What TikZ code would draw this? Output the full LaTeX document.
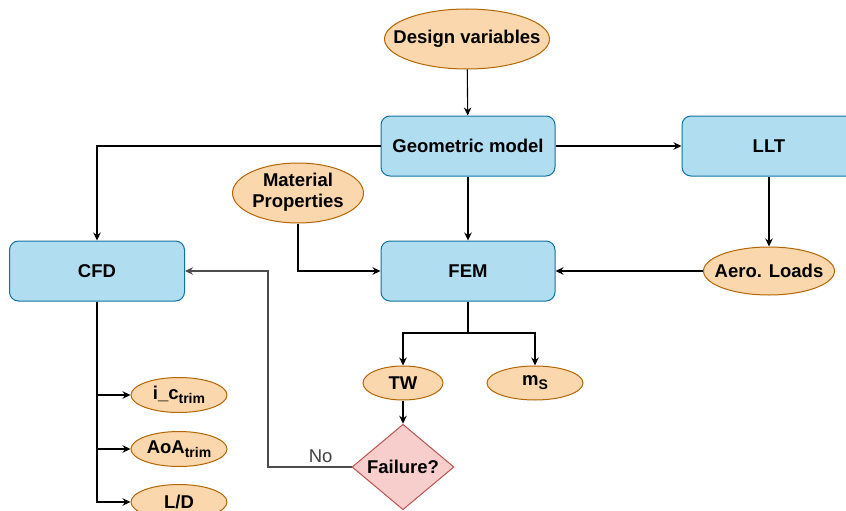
\documentclass[tikz,border=0pt]{standalone}
\usepackage{fontspec}
\setmainfont{Liberation Sans}
\usepackage{tikz}
\usetikzlibrary{arrows.meta, shapes.geometric}

\definecolor{boxfill}{HTML}{B1DDF0}
\definecolor{boxline}{HTML}{10739E}
\definecolor{ovalfill}{HTML}{FAD7AC}
\definecolor{ovalline}{HTML}{B46504}
\definecolor{failfill}{HTML}{F8CECC}
\definecolor{failline}{HTML}{B85450}

\begin{document}
\begin{tikzpicture}[x=1pt, y=-1pt, >={Stealth[length=8pt,width=7.5pt]},
    font=\fontsize{18.5}{21}\selectfont\bfseries, line width=1.1pt,
    block/.style={rectangle, rounded corners=9pt, draw=boxline, fill=boxfill,
        minimum width=174pt, minimum height=60pt, line width=1pt},
    oval/.style={ellipse, draw=ovalline, fill=ovalfill, inner sep=0pt,
        minimum width=96pt, minimum height=35pt, line width=1pt},
    fail/.style={diamond, draw=failline, fill=failfill, inner sep=0pt,
        minimum width=102pt, minimum height=82pt, line width=1pt},
    sub/.style={font=\fontsize{14}{14}\selectfont\bfseries}]
                    \useasboundingbox (0,0) rectangle (846,511);
                    \node[oval, minimum width=165pt, minimum height=60pt] (design) at (467,39) {\makebox[0pt]{Design variables}};
                    \node[block] (geom) at (468,146) {Geometric model};
                    \node[block] (llt) at (769,146) {LLT};
                    \node[block, minimum width=175pt] (cfd) at (97,271) {CFD};
                    \node[block] (fem) at (468,271) {FEM};
                    \node[oval, minimum width=131pt, minimum height=60pt] (matprop) at (298,193)
                        {\makebox[0pt]{\begin{tabular}{@{}c@{}}Material\\Properties\end{tabular}}};
                    \node[oval, minimum width=131pt, minimum height=48pt] (aero) at (769,271) {\makebox[0pt]{Aero. Loads}};
                    \node[oval, minimum width=80pt, minimum height=34pt] (tw) at (403,383) {\makebox[0pt]{TW}};
                    \node[oval, minimum height=34pt] (ms) at (535,383)
                        {\makebox[0pt]{m\raisebox{-4pt}{\fontsize{14}{14}\selectfont S}}};
                    \node[fail] (failure) at (403,467) {Failure?};
                    \node[oval] (ictrim) at (179,395)
                        {\makebox[0pt]{i\_c\raisebox{-4pt}{\fontsize{14}{14}\selectfont trim}}};
                    \node[oval] (aoa) at (179,449)
                        {\makebox[0pt]{AoA\raisebox{-4pt}{\fontsize{14}{14}\selectfont trim}}};
                    \node[oval] (ld) at (179,502) {\makebox[0pt]{L/D}};
                    \coordinate (split) at (468,333);
                    \coordinate (back) at (268,467);
                    \draw [->] (design) -- (geom);
                    \draw [->] (geom) -| (cfd);
                    \draw [->] (geom) -- (llt);
                    \draw [->] (geom) -- (fem);
                    \draw [->] (matprop) |- (fem);
                    \draw [->] (llt) -- (aero);
                    \draw [->] (aero) -- (fem);
                    \draw (fem) -- (split);
                    \draw [->] (split) -| (tw);
                    \draw [->] (split) -| (ms);
                    \draw [->] (tw) -- (failure);
                    \draw [->, draw=black!70] (failure) -- node [above, pos=0.37, font=\fontsize{18.5}{21}\selectfont, text=black!75] {No} (back) |- (cfd);
                    \foreach \out in {ictrim,aoa,ld} {%
                        \draw [->] (cfd.south) |- (\out);
                    }
                \end{tikzpicture}
\end{document}
